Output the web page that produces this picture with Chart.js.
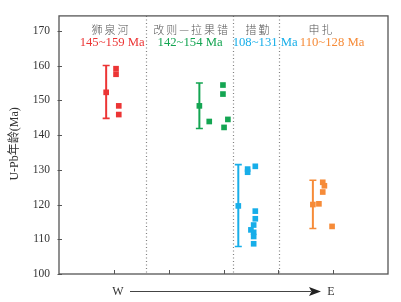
<!DOCTYPE html>
<html><head><meta charset="utf-8">
<script src="https://cdn.jsdelivr.net/npm/chart.js@4.4.1/dist/chart.umd.min.js"></script>
<style>html,body{margin:0;padding:0;background:#fff}canvas{display:block}</style>
</head><body>
<canvas id="c" width="401" height="302"></canvas>
<script>
// ---- data ----
const groupNames  = ['狮泉河', '改则—拉果错', '措勤', '申扎'];
const groupRanges = ['145~159 Ma', '142~154 Ma', '108~131 Ma', '110~128 Ma'];
const groupColors = ['#ec3535', '#14a552', '#17aee9', '#f68b38'];
const titleX = [0.93, 2.40, 3.62, 4.77];
const rangeX = [0.97, 2.39, 3.76, 4.98];
const dividers = [1.59, 3.18, 4.01];

const redX   = [1.04, 1.04, 1.09, 1.09];
const redY   = [159.1, 157.5, 148.4, 145.9];
const greenX = [2.99, 2.99, 2.74, 3.08, 3.01];
const greenY = [154.4, 151.8, 143.9, 144.5, 142.2];
const blueX  = [3.44, 3.44, 3.58, 3.58, 3.58, 3.55, 3.50, 3.55, 3.55, 3.55];
const blueY  = [130.2, 129.3, 131.0, 118.1, 115.9, 114.1, 112.7, 112.0, 110.8, 108.7];
const orangeX = [4.81, 4.84, 4.81, 4.74, 4.98];
const orangeY = [126.4, 125.4, 123.6, 120.2, 113.7];

const meanX  = [0.86, 2.56, 3.27, 4.63];
const meanY  = [152.3, 148.4, 119.6, 120.0];
const meanLo = [144.8, 141.9, 107.9, 113.1];
const meanHi = [160.0, 155.0, 131.5, 127.0];

const yTicks = [100, 110, 120, 130, 140, 150, 160, 170];
const xTicks = [1, 2, 3, 4, 5];

const pts = (xs, ys) => xs.map((x, i) => ({x, y: ys[i]}));
const seriesX = [redX, greenX, blueX, orangeX];
const seriesY = [redY, greenY, blueY, orangeY];

const datasets = [];
for (let g = 0; g < 4; g++) {
  datasets.push({
    data: pts(seriesX[g], seriesY[g]),
    backgroundColor: groupColors[g], borderColor: groupColors[g],
    pointStyle: 'rect', pointRadius: 4, borderWidth: 0, pointHoverRadius: 4
  });
  datasets.push({
    data: [{x: meanX[g], y: meanY[g]}],
    backgroundColor: groupColors[g], borderColor: groupColors[g],
    pointStyle: 'rect', pointRadius: 4, borderWidth: 0, pointHoverRadius: 4
  });
}

const deco = {
  id: 'deco',
  beforeDatasetsDraw(chart) {
    const {ctx, chartArea: a, scales: {x, y}} = chart;
    ctx.save();
    // dotted dividers
    ctx.strokeStyle = '#808080'; ctx.lineWidth = 1.2; ctx.setLineDash([1.2, 2.3]);
    dividers.forEach(d => {
      const px = Math.round(x.getPixelForValue(d)) + 0.5;
      ctx.beginPath(); ctx.moveTo(px, a.top); ctx.lineTo(px, a.bottom); ctx.stroke();
    });
    ctx.setLineDash([]);
    // error bars
    for (let g = 0; g < 4; g++) {
      const px = x.getPixelForValue(meanX[g]);
      const top = y.getPixelForValue(meanHi[g]);
      const bot = y.getPixelForValue(meanLo[g]);
      ctx.strokeStyle = groupColors[g];
      ctx.lineWidth = 2;
      ctx.beginPath(); ctx.moveTo(px, top); ctx.lineTo(px, bot); ctx.stroke();
      ctx.lineWidth = 1.6;
      ctx.beginPath();
      ctx.moveTo(px - 3.5, top); ctx.lineTo(px + 3.5, top);
      ctx.moveTo(px - 3.5, bot); ctx.lineTo(px + 3.5, bot);
      ctx.stroke();
    }
    ctx.restore();
  },
  afterDraw(chart) {
    const {ctx, chartArea: a, scales: {x, y}} = chart;
    ctx.save();
    // frame
    ctx.strokeStyle = '#555'; ctx.lineWidth = 1.3;
    ctx.strokeRect(a.left, a.top, a.right - a.left, a.bottom - a.top);
    // inward ticks
    ctx.lineWidth = 1;
    ctx.beginPath();
    xTicks.forEach(t => {
      const px = Math.round(x.getPixelForValue(t)) + 0.5;
      ctx.moveTo(px, a.bottom); ctx.lineTo(px, a.bottom - 4);
    });
    yTicks.forEach(t => {
      const py = Math.round(y.getPixelForValue(t)) + 0.5;
      ctx.moveTo(a.left - 1.5, py); ctx.lineTo(a.left + 3, py);
    });
    ctx.stroke();
    // group titles
    ctx.textAlign = 'center'; ctx.textBaseline = 'middle';
    ctx.fillStyle = '#555';
    ctx.font = '300 11px "Noto Sans CJK SC"';
    try { ctx.letterSpacing = '2px'; } catch (e) {}
    groupNames.forEach((n, i) => {
      ctx.fillText(n, x.getPixelForValue(titleX[i]) + 1, y.getPixelForValue(170.3));
    });
    try { ctx.letterSpacing = '0px'; } catch (e) {}
    ctx.font = '12.7px "Liberation Serif"';
    groupRanges.forEach((r, i) => {
      ctx.fillStyle = groupColors[i];
      ctx.fillText(r, x.getPixelForValue(rangeX[i]), y.getPixelForValue(166.5));
    });
    // y axis title
    ctx.save();
    ctx.translate(15, (a.top + a.bottom) / 2 - 1);
    ctx.rotate(-Math.PI / 2);
    ctx.fillStyle = '#333';
    ctx.font = '12px "Liberation Serif", "Noto Sans CJK SC"';
    ctx.fillText('U-Pb年龄(Ma)', 0, 0);
    ctx.restore();
    // W -> E arrow
    const ay = 291.5;
    ctx.fillStyle = '#333';
    ctx.font = '12px "Liberation Serif"';
    ctx.fillText('W', 118, ay + 0.5);
    ctx.fillText('E', 331, ay + 0.5);
    ctx.strokeStyle = '#444'; ctx.lineWidth = 1.2;
    ctx.beginPath(); ctx.moveTo(130, ay); ctx.lineTo(311, ay); ctx.stroke();
    ctx.fillStyle = '#222';
    ctx.beginPath(); ctx.moveTo(321, ay); ctx.lineTo(309, ay - 4.5); ctx.lineTo(311.5, ay); ctx.lineTo(309, ay + 4.5); ctx.closePath(); ctx.fill();
    ctx.restore();
  }
};

new Chart(document.getElementById('c'), {
  type: 'scatter',
  data: {datasets},
  options: {
    responsive: false, animation: false, devicePixelRatio: 1,
    layout: {padding: {left: 0, right: 13, top: 12, bottom: 0}},
    plugins: {legend: {display: false}, tooltip: {enabled: false}},
    scales: {
      x: {
        type: 'linear', min: 0, max: 6,
        grid: {display: false, drawTicks: false}, border: {display: false},
        ticks: {display: false},
        afterFit(s) { s.height = 28; }
      },
      y: {
        type: 'linear', min: 100, max: 174.3,
        grid: {display: false, drawTicks: false}, border: {display: false},
        afterBuildTicks(s) { s.ticks = yTicks.map(v => ({value: v})); },
        ticks: {
          padding: 9, color: '#333',
          font: {family: '"Liberation Serif"', size: 11.5},
          callback: v => String(v)
        },
        afterFit(s) { s.width = 59; }
      }
    }
  },
  plugins: [deco]
});
</script>
</body></html>
